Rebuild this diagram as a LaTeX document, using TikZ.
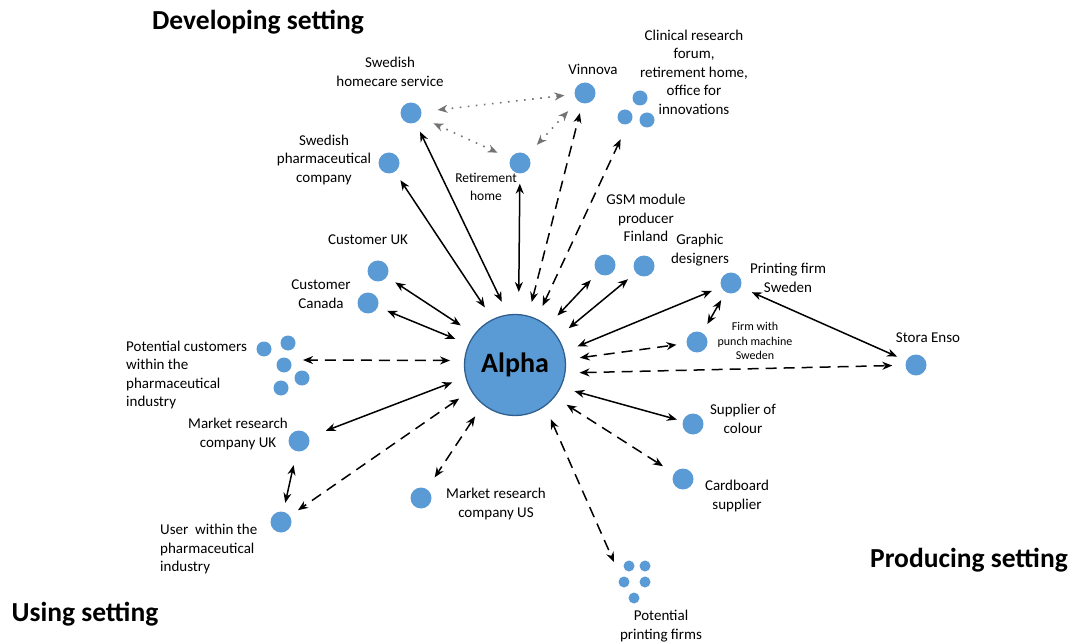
\documentclass[tikz,border=0pt]{standalone}
\usepackage{fontspec}
\setmainfont{Carlito}
\usetikzlibrary{arrows.meta}
\tikzset{>={Stealth[width=8pt,length=10pt]}}
\definecolor{dotblue}{HTML}{5B9BD5}
\definecolor{rimblue}{HTML}{2F5F8F}

\begin{document}
\begin{tikzpicture}[x=1pt,y=-1pt,
  dot/.style={circle,fill=dotblue,inner sep=0pt,minimum size=21pt},
  mini/.style={circle,fill=dotblue,inner sep=0pt,minimum size=15pt},
  tiny/.style={circle,fill=dotblue,inner sep=0pt,minimum size=11pt},
  lbl/.style={align=center,font=\fontsize{15}{18.5}\selectfont,inner sep=0pt},
  lblsmall/.style={align=center,font=\fontsize{12}{14.5}\selectfont,inner sep=0pt},
  title/.style={font=\fontsize{27.5}{32}\selectfont\bfseries,inner sep=0pt},
  link/.style={<->,line width=1.5pt,shorten <=14pt,shorten >=10pt},
  dlink/.style={link,dash pattern=on 11pt off 7pt},
  dotlink/.style={<->,black!55,line width=1.6pt,dash pattern=on 1.6pt off 6.5pt,shorten <=14pt,shorten >=14pt}]

  \useasboundingbox (0,0) rectangle (1073,644);

  % settings
  \node[title] (develop) at (258,22) {Developing setting};
  \node[title] (produce) at (969,560) {Producing setting};
  \node[title] (using) at (85,614) {Using setting};

  % centre
  \node[circle,fill=dotblue,draw=rimblue,line width=1.3pt,minimum size=101pt,
        font=\fontsize{28}{32}\selectfont\bfseries] (alpha) at (515,365) {Alpha};

  % developing side
  \node[dot] (homecare) at (411,113) {};
  \node[lbl] (homecarelbl) at (390,72) {Swedish\\homecare service};
  \node[dot] (vinnova) at (585,93) {};
  \node[lbl] (vinnovalbl) at (593,69) {Vinnova};
  \node[mini] (clinA) at (640,98) {};
  \node[mini] (clinB) at (625,117) {};
  \node[mini] (clinC) at (647,120) {};
  \coordinate (clin) at (624,132);
  \node[lbl] (clinlbl) at (694,72) {Clinical research\\forum,\\retirement home,\\office for\\innovations};
  \node[dot] (retire) at (520,163) {};
  \node[lblsmall,font=\fontsize{13.5}{18}\selectfont] (retirelbl) at (486,187) {Retirement\\home};
  \node[dot] (pharma) at (389,163) {};
  \node[lbl] (pharmalbl) at (324,160) {Swedish\\pharmaceutical\\company};
  \node[dot] (custuk) at (378,271) {};
  \node[lbl] (custuklbl) at (368,240) {Customer UK};
  \node[dot] (custca) at (368,303) {};
  \node[lbl] (custcalbl) at (321,294) {Customer\\Canada};

  % using side
  \node[mini] (pcA) at (264,349) {};
  \node[mini] (pcB) at (288,343) {};
  \node[mini] (pcC) at (284,365) {};
  \node[mini] (pcD) at (302,378) {};
  \node[mini] (pcE) at (281,388) {};
  \coordinate (pcust) at (293,360);
  \node[lbl,anchor=west,align=left] (pcustlbl) at (126,375) {Potential customers\\within the\\pharmaceutical\\industry};
  \node[dot] (mruk) at (299,441) {};
  \node[lbl] (mruklbl) at (238,434) {Market research\\company UK};
  \node[dot] (user) at (281,522) {};
  \node[lbl,anchor=west,align=left] (userlbl) at (160,549) {User\ \ within the\\pharmaceutical\\industry};
  \node[dot] (mrus) at (421,498) {};
  \node[lbl] (mruslbl) at (496,504) {Market research\\company US};

  % producing side
  \node[tiny] (pfA) at (629,566) {};
  \node[tiny] (pfB) at (645,566) {};
  \node[tiny] (pfC) at (624,582) {};
  \node[tiny] (pfD) at (645,582) {};
  \node[tiny] (pfE) at (634,598) {};
  \coordinate (pfirm) at (614,562);
  \node[lbl] (pfirmlbl) at (661,626) {Potential\\printing firms};
  \node[dot] (cardboard) at (683,479) {};
  \node[lbl] (cardboardlbl) at (737,496) {Cardboard\\supplier};
  \node[dot] (colour) at (693,424) {};
  \node[lbl] (colourlbl) at (743,419) {Supplier of\\colour};
  \node[dot] (stora) at (916,365) {};
  \node[lbl] (storalbl) at (928,338) {Stora Enso};
  \node[dot] (punch) at (697,342) {};
  \node[lblsmall] (punchlbl) at (755,341) {Firm with\\punch machine\\Sweden};
  \node[dot] (printing) at (731,283) {};
  \node[lbl] (printinglbl) at (788,278) {Printing firm\\Sweden};
  \node[dot] (graphic) at (644,266) {};
  \node[lbl] (graphiclbl) at (700,250) {Graphic\\designers};
  \node[dot] (gsm) at (605,265) {};
  \node[lbl] (gsmlbl) at (646,218) {GSM module\\producer\\Finland};

  % links to Alpha
  \draw[link] (alpha.98) -- (homecare);
  \draw[link] (alpha.116) -- (pharma);
  \draw[link,shorten <=22pt] (alpha.86) -- (retire);
  \draw[dlink] (alpha.75) -- (vinnova);
  \draw[dlink,shorten >=8pt] (alpha.65) -- (clin);
  \draw[link] (alpha.50) -- (gsm);
  \draw[link] (alpha.33) -- (graphic);
  \draw[link] (alpha.15) -- (printing);
  \draw[dlink] (alpha.6) -- (punch);
  \draw[dlink,shorten >=13pt] (alpha.-9) -- (stora);
  \draw[link,shorten >=6pt] (alpha.-26) -- (colour);
  \draw[dlink,shorten >=13pt] (alpha.-39) -- (cardboard);
  \draw[dlink,shorten >=0pt] (alpha.-54) -- (pfirm);
  \draw[dlink,shorten >=14pt] (alpha.231) -- (mrus);
  \draw[dlink] (alpha.210) -- (user);
  \draw[link,shorten >=18pt] (alpha.194) -- (mruk);
  \draw[dlink,shorten >=10pt] (alpha.175) -- (pcust);
  \draw[link] (alpha.156) -- (custca);
  \draw[link,shorten <=16pt] (alpha.143) -- (custuk);

  % links between partners
  \draw[link,shorten <=12pt,shorten >=10pt] (printing) -- (stora);
  \draw[link,shorten <=9pt,shorten >=10pt] (printing) -- (punch);
  \draw[link,shorten <=14pt,shorten >=9pt] (mruk) -- (user);
  \draw[dotlink,shorten <=16pt,shorten >=10pt] (homecare) -- (vinnova);
  \draw[dotlink] (homecare) -- (retire);
  \draw[dotlink] (vinnova) -- (retire);

\end{tikzpicture}
\end{document}
